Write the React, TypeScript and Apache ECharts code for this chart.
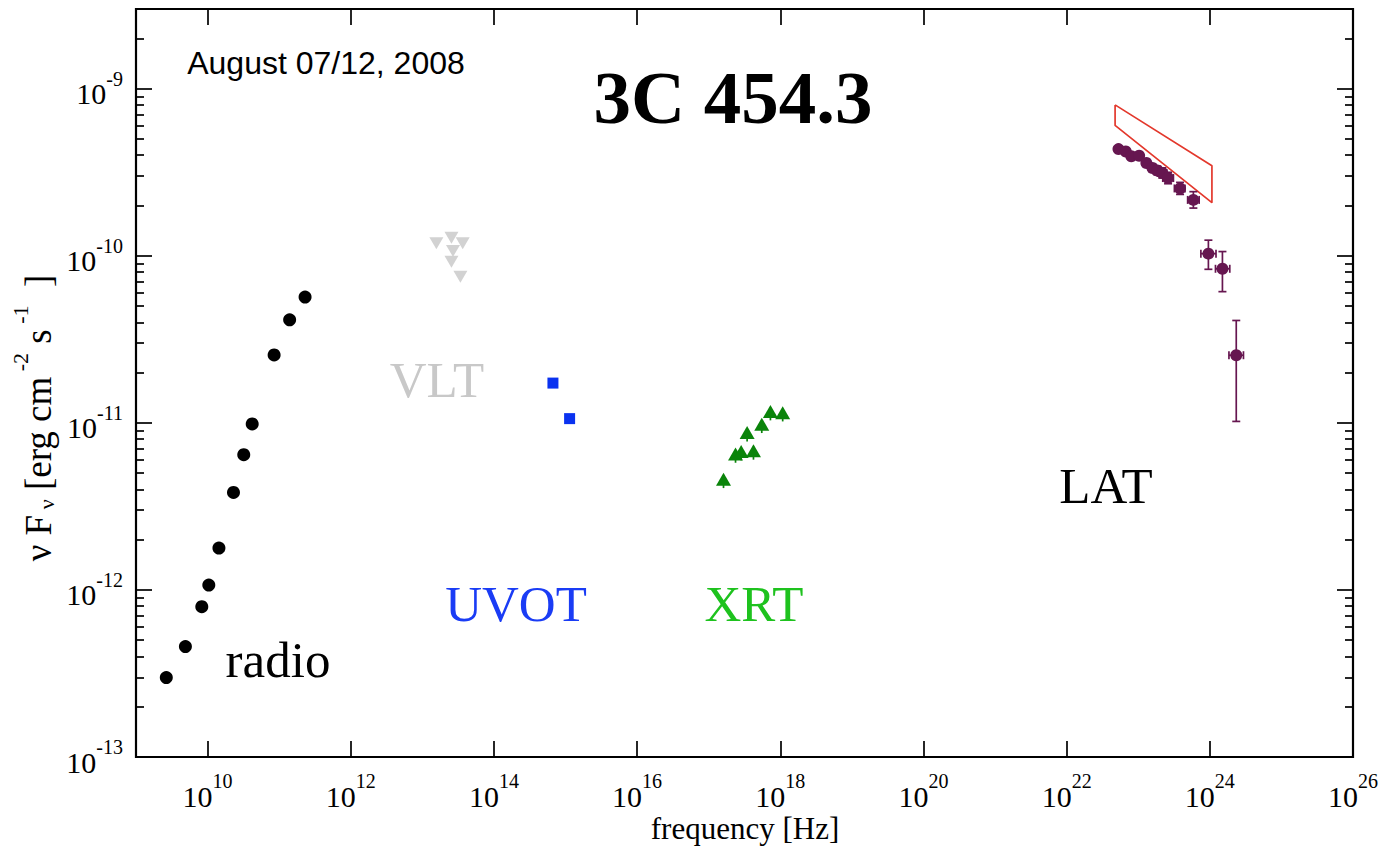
import React, { useEffect, useRef } from "react";
import * as echarts from "echarts";

// ---------------- data (frequency in Hz, nuFnu in erg cm^-2 s^-1) ----------------
const radioFreq = [2.65e9, 4.9e9, 8.3e9, 1.04e10, 1.44e10, 2.3e10, 3.2e10, 4.2e10, 8.5e10, 1.4e11, 2.3e11];
const radioFlux = [2.99e-13, 4.58e-13, 7.94e-13, 1.07e-12, 1.78e-12, 3.83e-12, 6.45e-12, 9.86e-12, 2.55e-11, 4.14e-11, 5.66e-11];

const vltFreq = [1.57e13, 2.55e13, 3.66e13, 2.68e13, 2.55e13, 3.4e13];
const vltFlux = [1.19e-10, 1.28e-10, 1.19e-10, 1.07e-10, 9.2e-11, 7.48e-11];

const uvotFreq = [6.67e14, 1.14e15];
const uvotFlux = [1.73e-11, 1.06e-11];

const xrtFreq = [1.61e17, 2.37e17, 2.84e17, 4.22e17, 3.44e17, 5.51e17, 7.28e17, 1.08e18];
const xrtFlux = [4.6e-12, 6.52e-12, 6.73e-12, 6.8e-12, 8.75e-12, 9.82e-12, 1.17e-11, 1.15e-11];
const xrtFluxLo = [4.07e-12, 5.77e-12, 5.96e-12, 6.02e-12, 7.74e-12, 8.69e-12, 1.035e-11, 1.02e-11];
const xrtFluxHi = [4.85e-12, 6.9e-12, 7.1e-12, 7.2e-12, 9.25e-12, 1.04e-11, 1.24e-11, 1.22e-11];

const latFreq = [5.3e22, 6.7e22, 8.0e22, 1.03e23, 1.3e23, 1.58e23, 1.85e23, 2.17e23, 2.61e23, 3.84e23, 5.89e23, 9.55e23, 1.5e24, 2.34e24];
const latFlux = [4.35e-10, 4.21e-10, 3.94e-10, 3.97e-10, 3.59e-10, 3.35e-10, 3.24e-10, 3.13e-10, 2.92e-10, 2.53e-10, 2.16e-10, 1.03e-10, 8.36e-11, 2.54e-11];
const latFreqLo = [4.9e22, 6.2e22, 7.4e22, 9.5e22, 1.2e23, 1.45e23, 1.6e23, 1.85e23, 2.2e23, 3.2e23, 4.9e23, 7.5e23, 1.2e24, 1.85e24];
const latFreqHi = [5.7e22, 7.2e22, 8.7e22, 1.12e23, 1.41e23, 1.72e23, 2.1e23, 2.5e23, 3.1e23, 4.5e23, 7.1e23, 1.22e24, 1.9e24, 2.95e24];
const latFluxLo = [4.2e-10, 4.05e-10, 3.78e-10, 3.8e-10, 3.42e-10, 3.18e-10, 3.05e-10, 2.92e-10, 2.7e-10, 2.33e-10, 1.93e-10, 8.3e-11, 6.1e-11, 1.02e-11];
const latFluxHi = [4.5e-10, 4.38e-10, 4.1e-10, 4.15e-10, 3.77e-10, 3.53e-10, 3.44e-10, 3.36e-10, 3.16e-10, 2.75e-10, 2.42e-10, 1.24e-10, 1.06e-10, 4.1e-11];

// LAT butterfly outline (closed)
const bowtieFreq = [4.75e22, 1.07e24, 1.07e24, 4.75e22, 4.75e22];
const bowtieFlux = [8.0e-10, 3.46e-10, 2.08e-10, 6.03e-10, 8.0e-10];

// axes (exponents of ten)
const xMinExp = 9;
const xMaxExp = 26;
const xTickExps = [10, 12, 14, 16, 18, 20, 22, 24, 26];
const yMinFlux = 1e-13;
const yMaxFlux = 3e-9;
const yTickExps = [-13, -12, -11, -10, -9];
const yMinorMantissas = [2, 3, 4, 5, 6, 7, 8, 9];

const SERIF = "'Liberation Serif', 'DejaVu Serif', serif";
const SANS = "'Liberation Sans', Arial, sans-serif";

const lg = (v: number) => Math.log10(v);
const pts = (xs: number[], ys: number[]) => xs.map((x, i) => [lg(x), lg(ys[i])]);

function errRender(color: string, capV: number, capH: number) {
  return (params: any, api: any) => {
    const x = api.value(0), y = api.value(1);
    const x0 = api.value(2), x1 = api.value(3), y0 = api.value(4), y1 = api.value(5);
    const c = api.coord([x, y]);
    const px0 = api.coord([x0, y])[0];
    const px1 = api.coord([x1, y])[0];
    const py0 = api.coord([x, y0])[1];
    const py1 = api.coord([x, y1])[1];
    const style = { stroke: color, lineWidth: 1.7 };
    const ch: any[] = [{ type: "line", shape: { x1: c[0], y1: py0, x2: c[0], y2: py1 }, style }];
    if (capV > 0) {
      ch.push({ type: "line", shape: { x1: c[0] - capV, y1: py0, x2: c[0] + capV, y2: py0 }, style });
      ch.push({ type: "line", shape: { x1: c[0] - capV, y1: py1, x2: c[0] + capV, y2: py1 }, style });
    }
    if (Math.abs(px1 - px0) > 0.5) {
      ch.push({ type: "line", shape: { x1: px0, y1: c[1], x2: px1, y2: c[1] }, style });
      if (capH > 0) {
        ch.push({ type: "line", shape: { x1: px0, y1: c[1] - capH, x2: px0, y2: c[1] + capH }, style });
        ch.push({ type: "line", shape: { x1: px1, y1: c[1] - capH, x2: px1, y2: c[1] + capH }, style });
      }
    }
    return { type: "group", children: ch };
  };
}

const tickRich = {
  b: { fontFamily: SERIF, fontSize: 30, color: "#000", padding: [10, 0, 0, 0], verticalAlign: "bottom" },
  s: { fontFamily: SERIF, fontSize: 20, color: "#000", verticalAlign: "top" },
};

export default function App() {
  const ref = useRef<HTMLDivElement>(null);
  useEffect(() => {
    if (!ref.current) return;
    const chart = echarts.init(ref.current, null, { renderer: "svg" });
    const yMin = lg(yMinFlux);
    const yMax = lg(yMaxFlux);
    const yMinor: number[] = [];
    yTickExps.forEach((e) =>
      yMinorMantissas.forEach((m) => {
        const v = e + lg(m);
        if (v < yMax - 1e-6) yMinor.push(v);
      })
    );
    const tickStyle = { color: "#000", width: 1.7 };
    const xCommon = { type: "value", min: xMinExp, max: xMaxExp, splitLine: { show: false }, axisLine: { show: false } };
    const yCommon = { type: "value", min: yMin, max: yMax, splitLine: { show: false }, axisLine: { show: false } };

    const option: any = {
      animation: false,
      backgroundColor: "#fff",
      grid: { left: 136, top: 9, right: 32, bottom: 89, show: true, borderColor: "#000", borderWidth: 2.2, backgroundColor: "transparent" },
      xAxis: [
        {
          ...xCommon,
          position: "bottom",
          axisTick: { show: true, inside: true, length: 16, lineStyle: tickStyle, customValues: xTickExps },
          axisLabel: {
            show: true,
            customValues: xTickExps,
            margin: 14,
            formatter: (v: number) => `{b|10}{s|${Math.round(v)}}`,
            rich: tickRich,
          },
        },
        {
          ...xCommon,
          position: "top",
          axisTick: { show: true, inside: true, length: 16, lineStyle: tickStyle, customValues: xTickExps },
          axisLabel: { show: false },
        },
      ],
      yAxis: [
        {
          ...yCommon,
          position: "left",
          axisTick: { show: true, inside: true, length: 16, lineStyle: tickStyle, customValues: yTickExps },
          axisLabel: {
            show: true,
            customValues: yTickExps,
            margin: 13,
            formatter: (v: number) => `{b|10}{s|${Math.round(v)}}`,
            rich: tickRich,
          },
        },
        {
          ...yCommon,
          position: "left",
          axisTick: { show: true, inside: true, length: 8, lineStyle: tickStyle, customValues: yMinor },
          axisLabel: { show: false },
        },
        {
          ...yCommon,
          position: "right",
          axisTick: { show: true, inside: true, length: 16, lineStyle: tickStyle, customValues: yTickExps },
          axisLabel: { show: false },
        },
        {
          ...yCommon,
          position: "right",
          axisTick: { show: true, inside: true, length: 8, lineStyle: tickStyle, customValues: yMinor },
          axisLabel: { show: false },
        },
      ],
      series: [
        {
          name: "LAT butterfly",
          type: "line",
          data: pts(bowtieFreq, bowtieFlux),
          symbol: "none",
          lineStyle: { color: "#e3382c", width: 1.7 },
          z: 2,
        },
        {
          name: "radio",
          type: "scatter",
          data: pts(radioFreq, radioFlux),
          symbol: "circle",
          symbolSize: 13,
          itemStyle: { color: "#000", opacity: 1 },
          z: 4,
        },
        {
          name: "VLT",
          type: "scatter",
          data: pts(vltFreq, vltFlux),
          symbol: "triangle",
          symbolRotate: 180,
          symbolSize: [14, 12],
          itemStyle: { color: "#d2d2d2", opacity: 1 },
          z: 4,
        },
        {
          name: "UVOT",
          type: "scatter",
          data: pts(uvotFreq, uvotFlux),
          symbol: "rect",
          symbolSize: 11,
          itemStyle: { color: "#0a32f0", opacity: 1 },
          z: 4,
        },
        {
          name: "XRT err",
          type: "custom",
          renderItem: errRender("#0a840a", 0, 0),
          data: xrtFreq.map((f, i) => [lg(f), lg(xrtFlux[i]), lg(f), lg(f), lg(xrtFluxLo[i]), lg(xrtFluxHi[i])]),
          encode: { x: 0, y: 1 },
          z: 3,
        },
        {
          name: "XRT",
          type: "scatter",
          data: pts(xrtFreq, xrtFlux),
          symbol: "triangle",
          symbolSize: [15, 13],
          itemStyle: { color: "#0a840a", opacity: 1 },
          z: 4,
        },
        {
          name: "LAT err",
          type: "custom",
          renderItem: errRender("#661650", 4, 4),
          data: latFreq.map((f, i) => [lg(f), lg(latFlux[i]), lg(latFreqLo[i]), lg(latFreqHi[i]), lg(latFluxLo[i]), lg(latFluxHi[i])]),
          encode: { x: 0, y: 1 },
          z: 3,
        },
        {
          name: "LAT",
          type: "scatter",
          data: pts(latFreq, latFlux),
          symbol: "circle",
          symbolSize: 12,
          itemStyle: { color: "#661650", opacity: 1 },
          z: 4,
        },
      ],
      graphic: [
        {
          type: "text",
          x: 326,
          y: 63,
          style: { text: "August 07/12, 2008", font: `32px ${SANS}`, fill: "#000", align: "center", verticalAlign: "middle" },
        },
        {
          type: "text",
          x: 733,
          y: 97,
          style: { text: "3C 454.3", font: `bold 75px ${SERIF}`, fill: "#000", align: "center", verticalAlign: "middle" },
        },
        {
          type: "text",
          x: 437,
          y: 380,
          style: { text: "VLT", font: `51px ${SERIF}`, fill: "#c8c8c8", align: "center", verticalAlign: "middle" },
        },
        {
          type: "text",
          x: 516,
          y: 604,
          style: { text: "UVOT", font: `51px ${SERIF}`, fill: "#1a3cf5", align: "center", verticalAlign: "middle" },
        },
        {
          type: "text",
          x: 754,
          y: 604,
          style: { text: "XRT", font: `51px ${SERIF}`, fill: "#1ec21e", align: "center", verticalAlign: "middle" },
        },
        {
          type: "text",
          x: 1106,
          y: 486,
          style: { text: "LAT", font: `51px ${SERIF}`, fill: "#000", align: "center", verticalAlign: "middle" },
        },
        {
          type: "text",
          x: 278,
          y: 660,
          style: { text: "radio", font: `51px ${SERIF}`, fill: "#000", align: "center", verticalAlign: "middle" },
        },
        {
          type: "text",
          x: 745,
          y: 828,
          style: { text: "frequency [Hz]", font: `31px ${SERIF}`, fill: "#000", align: "center", verticalAlign: "middle" },
        },
        {
          type: "text",
          x: 33,
          y: 418,
          rotation: Math.PI / 2,
          style: {
            text: "{a|ν F}{sub| ν}{a| [erg cm}{sup| -2}{a| s}{sup| -1}{a|  ]}",
            align: "center",
            verticalAlign: "middle",
            rich: {
              a: { fontFamily: SERIF, fontSize: 37, fill: "#000", padding: [11, 0, 0, 0], verticalAlign: "bottom" },
              sub: { fontFamily: SERIF, fontSize: 22, fill: "#000", verticalAlign: "bottom" },
              sup: { fontFamily: SERIF, fontSize: 22, fill: "#000", verticalAlign: "top" },
            },
          },
        },
      ],
    };
    chart.setOption(option);
    return () => chart.dispose();
  }, []);
  return <div ref={ref} style={{ position: "absolute", left: 0, top: 0, width: 1385, height: 846 }} />;
}
